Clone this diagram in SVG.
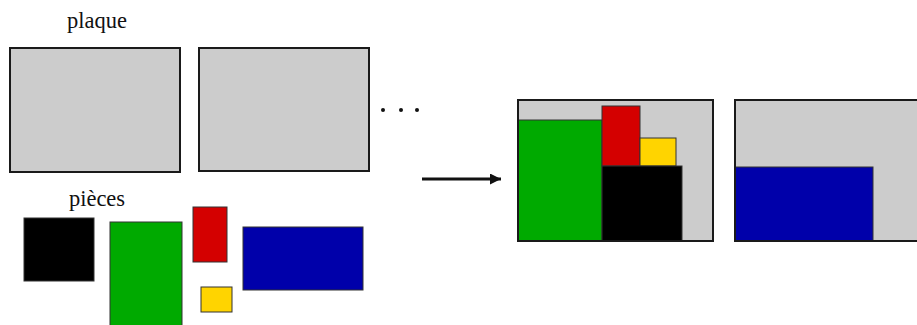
<svg xmlns="http://www.w3.org/2000/svg" width="917" height="325" viewBox="0 0 917 325">
<style>
.plate{fill:#cccccc;stroke:#1a1a1a;stroke-width:2}
.pc{stroke:#333333;stroke-width:1}
.lbl{font-family:"Liberation Serif",serif;font-size:22.5px;fill:#111;text-anchor:middle}
.dot{fill:#111}
</style>
<defs>
<marker id="ah" viewBox="0 0 10 10" refX="10" refY="5" markerWidth="12" markerHeight="11" markerUnits="userSpaceOnUse" orient="auto">
<path d="M0,0 L10,5 L0,10 z" fill="#111"/>
</marker>
</defs>
<rect width="917" height="325" fill="#fff"/>
<g id="label-plaque"><text class="lbl" x="97" y="28">plaque</text></g>
<g id="plaque1"><rect class="plate" x="10" y="48" width="170" height="124"/></g>
<g id="plaque2"><rect class="plate" x="199" y="48" width="170" height="123"/></g>
<g id="ellipsis"><circle class="dot" cx="383" cy="110" r="2"/><circle class="dot" cx="401" cy="110" r="2"/><circle class="dot" cx="417" cy="110" r="2"/></g>
<g id="label-pieces"><text class="lbl" x="97" y="206">pièces</text></g>
<g id="piece-black"><rect class="pc" x="24" y="218" width="70" height="63" fill="#000"/></g>
<g id="piece-green"><rect class="pc" x="110" y="222" width="72" height="110" fill="#00aa00"/></g>
<g id="piece-red"><rect class="pc" x="193" y="207" width="34" height="55" fill="#d40000"/></g>
<g id="piece-yellow"><rect class="pc" x="201" y="287" width="31" height="25" fill="#ffd400"/></g>
<g id="piece-blue"><rect class="pc" x="243" y="227" width="120" height="63" fill="#0000aa"/></g>
<g id="connectors"><line x1="422" y1="179" x2="501" y2="179" stroke="#111" stroke-width="3" marker-end="url(#ah)"/></g>
<g id="result1">
<rect class="plate" x="518" y="100" width="195" height="141"/>
<rect class="pc" x="518" y="120" width="84" height="121" fill="#00aa00"/>
<rect class="pc" x="602" y="106" width="38" height="60" fill="#d40000"/>
<rect class="pc" x="640" y="138" width="36" height="28" fill="#ffd400"/>
<rect class="pc" x="602" y="166" width="80" height="75" fill="#000"/>
<rect x="518" y="100" width="195" height="141" fill="none" stroke="#1a1a1a" stroke-width="2"/>
</g>
<g id="result2">
<rect class="plate" x="735" y="100" width="200" height="141"/>
<rect class="pc" x="735" y="167" width="138" height="74" fill="#0000aa"/>
<rect x="735" y="100" width="200" height="141" fill="none" stroke="#1a1a1a" stroke-width="2"/>
</g>
</svg>
